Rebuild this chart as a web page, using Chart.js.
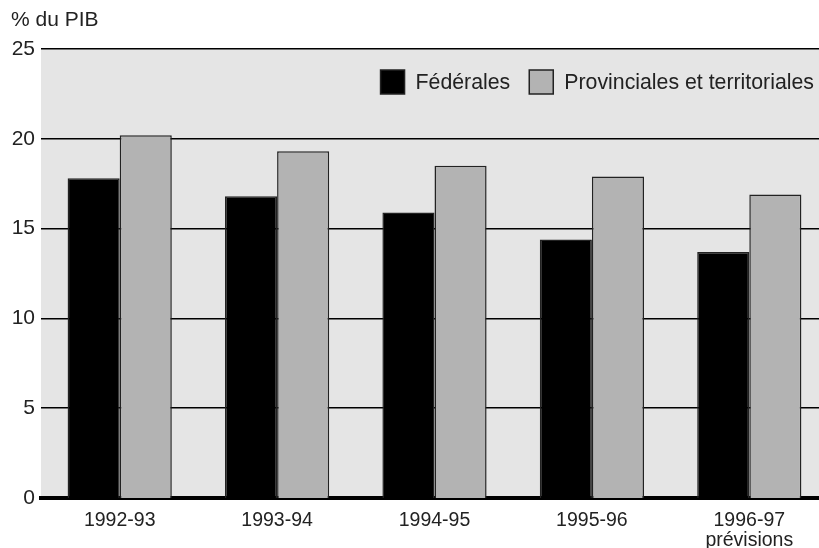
<!DOCTYPE html>
<html>
<head>
<meta charset="utf-8">
<script src="https://cdn.jsdelivr.net/npm/chart.js@4"></script>
<style>
  html, body { margin: 0; padding: 0; background: #fff; }
  #wrap { width: 819px; height: 548px; overflow: hidden; }
</style>
</head>
<body>
<div id="wrap"><canvas id="myChart" width="828" height="548"></canvas></div>
<script>
var categories = [['1992-93'], ['1993-94'], ['1994-95'], ['1995-96'], ['1996-97', 'prévisions']];
var federales = [17.8, 16.8, 15.9, 14.4, 13.7];
var provinciales = [20.2, 19.3, 18.5, 17.9, 16.9];
var yTicks = [0, 5, 10, 15, 20, 25];

var fontFamily = "'Liberation Sans', Arial, sans-serif";
var textColor = '#222';

// grey plot background, caption and legend drawn inside the plot
var plotExtras = {
    id: 'plotExtras',
    beforeDraw: function (chart) {
        var a = chart.chartArea, ctx = chart.ctx;
        ctx.save();
        ctx.fillStyle = '#e5e5e5';
        ctx.fillRect(a.left, a.top, a.right - a.left, a.bottom - a.top);
        ctx.restore();
    },
    afterDraw: function (chart) {
        var ctx = chart.ctx, a = chart.chartArea;
        ctx.save();
        ctx.font = '21px ' + fontFamily;
        ctx.fillStyle = textColor;
        ctx.textBaseline = 'middle';
        ctx.fillText('% du PIB', 11, 20);

        // legend, right aligned
        ctx.font = '21.3px ' + fontFamily;
        var box = 24, gap = 11, spacing = 19;
        var sets = chart.data.datasets;
        var widths = sets.map(function (d) { return box + gap + ctx.measureText(d.label).width; });
        var total = widths.reduce(function (s, w) { return s + w; }, 0) + spacing * (sets.length - 1);
        var x = a.right - 14 - total;
        var yc = 82;
        sets.forEach(function (d, i) {
            ctx.fillStyle = d.backgroundColor;
            ctx.fillRect(x, yc - box / 2, box, box);
            ctx.lineWidth = 1.5;
            ctx.strokeStyle = d.borderColor;
            ctx.strokeRect(x, yc - box / 2, box, box);
            ctx.fillStyle = textColor;
            ctx.fillText(d.label, x + box + gap, yc + 1);
            x += widths[i] + spacing;
        });
        ctx.restore();
    }
};

var ctx = document.getElementById('myChart').getContext('2d');
new Chart(ctx, {
    type: 'bar',
    data: {
        labels: categories,
        datasets: [{
            label: 'Fédérales',
            data: federales,
            backgroundColor: '#000',
            borderColor: '#222',
            borderWidth: 1.5
        }, {
            label: 'Provinciales et territoriales',
            data: provinciales,
            backgroundColor: '#b3b3b3',
            borderColor: '#222',
            borderWidth: 1.5
        }]
    },
    options: {
        responsive: false,
        animation: false,
        layout: { padding: { top: 49, left: 0, right: 0, bottom: 0 } },
        datasets: {
            bar: { categoryPercentage: 0.662, barPercentage: 1.0, borderSkipped: 'bottom' }
        },
        plugins: {
            tooltip: { enabled: false },
            legend: { display: false }
        },
        scales: {
            x: {
                grid: { display: false, drawTicks: false },
                border: { display: true, color: '#000', width: 4 },
                ticks: {
                    color: textColor,
                    padding: 13,
                    font: { family: fontFamily, size: 19.5, lineHeight: 1.0 },
                    maxRotation: 0,
                    autoSkip: false
                },
                afterFit: function (s) { s.height = 50; }
            },
            y: {
                min: 0,
                max: 25,
                afterBuildTicks: function (s) {
                    s.ticks = yTicks.map(function (v) { return { value: v }; });
                },
                grid: {
                    color: '#000',
                    lineWidth: function (c) { return c.tick && c.tick.value === 0 ? 0 : 1.5; },
                    drawTicks: false
                },
                border: { display: false },
                ticks: {
                    color: textColor,
                    padding: 6,
                    font: { family: fontFamily, size: 21 }
                },
                afterFit: function (s) { s.width = 41; }
            }
        }
    },
    plugins: [plotExtras]
});
</script>
</body>
</html>
